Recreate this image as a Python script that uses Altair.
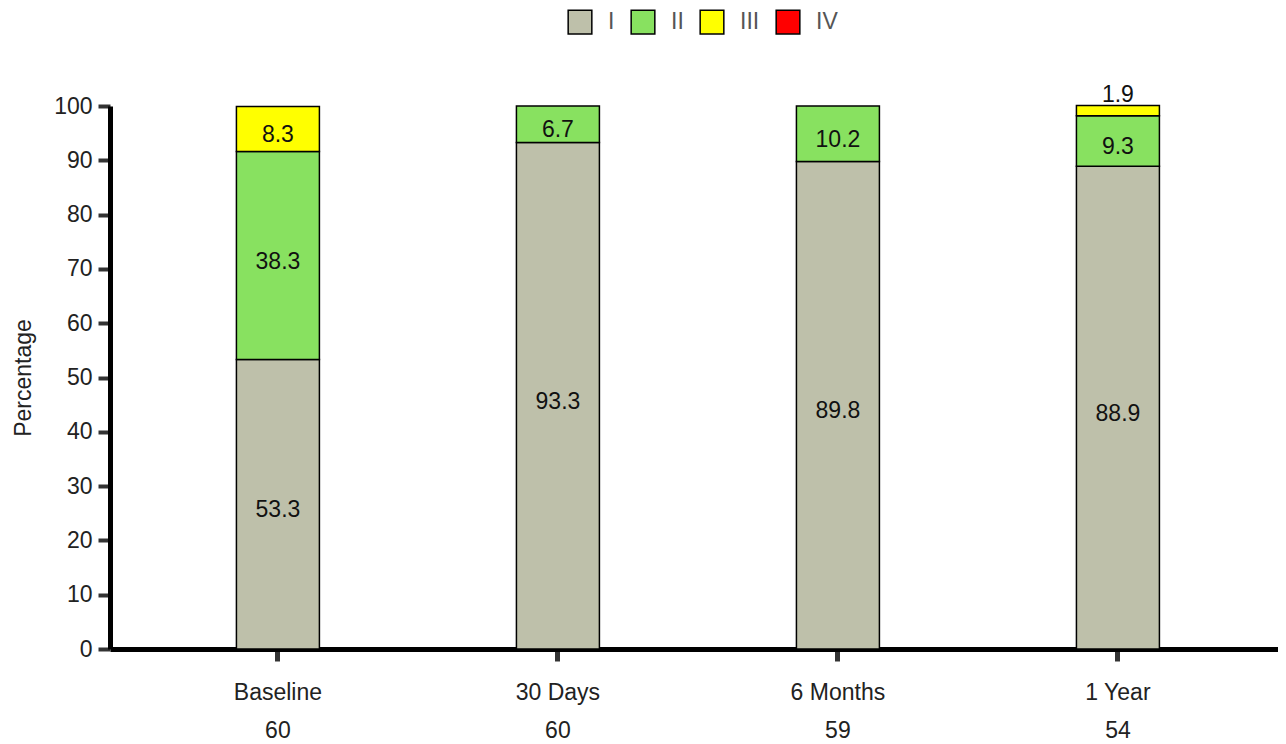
import altair as alt
import pandas as pd

times = ["Baseline", "30 Days", "6 Months", "1 Year"]
n_pat = [60, 60, 59, 54]
grades = ["I", "II", "III", "IV"]
grade_colors = ["#BEC0AA", "#88E160", "#FFFF00", "#FF0000"]
pct_I = [53.3, 93.3, 89.8, 88.9]
pct_II = [38.3, 6.7, 10.2, 9.3]
pct_III = [8.3, 0.0, 0.0, 1.9]
pct_IV = [0.0, 0.0, 0.0, 0.0]

series = {"I": pct_I, "II": pct_II, "III": pct_III, "IV": pct_IV}
rows = []
for ti, t in enumerate(times):
    for gi, g in enumerate(grades):
        rows.append({
            "time": f"{t}\n{n_pat[ti]}",
            "grade": g,
            "order": gi,
            "value": series[g][ti],
        })
df = pd.DataFrame(rows)
xdomain = [f"{t}\n{n}" for t, n in zip(times, n_pat)]

FONT = "Liberation Sans"

base = alt.Chart(df).transform_filter("datum.value > 0").transform_stack(
    stack="value", groupby=["time"], as_=["y0", "y1"],
    sort=[alt.SortField("order", order="ascending")]
)

xenc = alt.X("time:N", sort=xdomain,
             scale=alt.Scale(domain=xdomain, paddingInner=0.7036, paddingOuter=0.4375, align=0.516),
             axis=alt.Axis(title=None, labelAngle=0, labelExpr="split(datum.label, '\\n')",
                           labelFontSize=23, labelColor="#222", labelLineHeight=38,
                           labelPadding=20, tickSize=12, tickWidth=5, tickColor="#333",
                           domainWidth=5, domainColor="#000", labelFont=FONT))

bars = base.mark_bar(stroke="#000", strokeWidth=1.5).encode(
    x=xenc,
    y=alt.Y("y0:Q", scale=alt.Scale(domain=[0, 100], nice=False),
            axis=alt.Axis(values=list(range(0, 101, 10)), title="Percentage",
                          tickSize=12, tickWidth=4, tickColor="#333",
                          domainWidth=5, domainColor="#000",
                          labelFontSize=23, labelColor="#222", labelPadding=6,
                          titleFontSize=23, titleFontWeight="normal", titleColor="#222",
                          titlePadding=18, labelFont=FONT, titleFont=FONT)),
    y2="y1:Q",
    color=alt.Color("grade:N", scale=alt.Scale(domain=grades, range=grade_colors),
                    legend=alt.Legend(title=None, orient="none", direction="horizontal",
                                      legendX=457, legendY=-97,
                                      symbolType="square", symbolSize=560,
                                      symbolStrokeColor="#000", symbolStrokeWidth=1.5,
                                      symbolOpacity=1,
                                      labelFontSize=23, labelColor="#555", labelFont=FONT,
                                      labelOffset=15, columnPadding=13)),
)

big = base.transform_filter("datum.value >= 5").transform_calculate(
    mid="(datum.y0 + datum.y1) / 2", lab="format(datum.value, '.1f')"
).mark_text(fontSize=23, font=FONT, color="#111", baseline="middle", dy=6).encode(
    x=alt.X("time:N", sort=xdomain), y=alt.Y("mid:Q"), text="lab:N"
)

small = base.transform_filter("datum.value < 5").transform_calculate(
    lab="format(datum.value, '.1f')"
).mark_text(fontSize=23, font=FONT, color="#111", baseline="bottom", dy=2).encode(
    x=alt.X("time:N", sort=xdomain), y=alt.Y("y1:Q"), text="lab:N"
)

chart = alt.layer(bars, big, small).properties(
    width=1168, height=543,
    autosize=alt.AutoSizeParams(type="none"),
    padding={"left": 102, "top": 98, "right": 0, "bottom": 94},
).configure_view(stroke=None).configure_axis(grid=False)

chart.save("out.html", embed_options={"renderer": "svg", "actions": False})
